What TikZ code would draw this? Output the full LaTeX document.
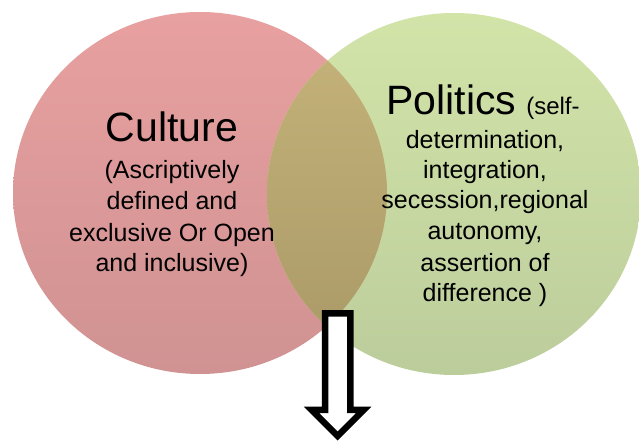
\documentclass[tikz,border=0pt]{standalone}
\usepackage{fontspec}
\setmainfont{Liberation Sans}
\definecolor{pinktop}{RGB}{232,160,160}
\definecolor{pinkbot}{RGB}{208,146,146}
\definecolor{greentop}{RGB}{210,228,168}
\definecolor{greenbot}{RGB}{188,205,156}
\definecolor{mixtop}{RGB}{198,180,122}
\definecolor{mixbot}{RGB}{168,152,102}
\begin{document}
\begin{tikzpicture}[x=1pt,y=1pt,
  bigword/.style={anchor=base, inner sep=0pt, font=\fontsize{41}{41}\selectfont},
  smallline/.style={anchor=base, inner sep=0pt, font=\fontsize{25}{25}\selectfont},
  hollowarrow/.style={draw=black, fill=white, line width=6.5pt, line join=miter, miter limit=10}]
\useasboundingbox (0,0) rectangle (639,441);

% the two sets
\def\culturesetpath{(200,248) ellipse [x radius=187, y radius=181]}
\def\politicssetpath{(454,247) ellipse [x radius=187, y radius=181]}
\shade[top color=pinktop, bottom color=pinkbot] \culturesetpath;
\shade[top color=greentop, bottom color=greenbot] \politicssetpath;
% their intersection
\begin{scope}
  \clip \culturesetpath;
  \shade[top color=mixtop, bottom color=mixbot] \politicssetpath;
\end{scope}

% left set: culture
\node[bigword] (culture) at (172,299) {Culture};
\node[smallline] (cul1) at (172,262) {(Ascriptively};
\node[smallline] (cul2) at (172,231) {defined and};
\node[smallline] (cul3) at (172,199) {exclusive Or Open};
\node[smallline] (cul4) at (172,169) {and inclusive)};

% right set: politics
\node[anchor=base, inner sep=0pt] (politics) at (483,326)
  {{\fontsize{41}{41}\selectfont Politics}\hspace{10pt}{\fontsize{24}{24}\selectfont(self-}};
\node[smallline] (pol1) at (485,292) {determination,};
\node[smallline] (pol2) at (485,262) {integration,};
\node[smallline] (pol3) at (485,232) {secession,regional};
\node[smallline] (pol4) at (485,201) {autonomy,};
\node[smallline] (pol5) at (485,169) {assertion of};
\node[smallline] (pol6) at (485,139) {difference )};

% hollow downward arrow below the intersection
\draw[hollowarrow] (325,127.5) -- (350.3,127.5) -- (350.3,31) -- (363.6,31)
  -- (337.6,5) -- (311.6,31) -- (325,31) -- cycle;
\end{tikzpicture}
\end{document}
